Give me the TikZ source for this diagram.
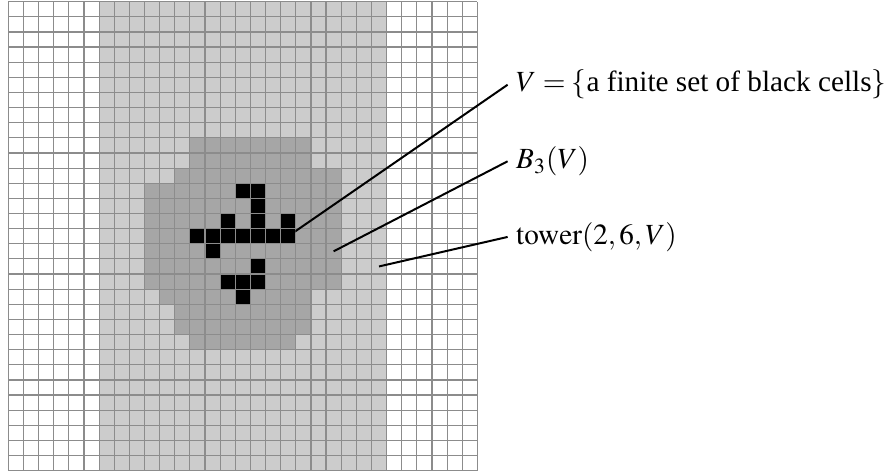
\documentclass[tikz,border=0pt]{standalone}
\usepackage{mathptmx}
\usepackage{fontspec}
\setmainfont{Liberation Serif}
\usepackage{tikz}
\usepackage{xcolor}
\definecolor{towerCol}{HTML}{CCCCCC}
\definecolor{ballCol}{HTML}{A6A6A6}
\definecolor{gridCol}{HTML}{8C8C8C}

\begin{document}
\begin{tikzpicture}[
    x=2mm, y=2mm,
    tower/.style={fill=towerCol},
    ball/.style={fill=ballCol},
    blackcell/.style={fill=black},
    gridline/.style={draw=gridCol, line width=0.45pt},
    leader/.style={draw=black, line width=0.75pt},
    tag/.style={anchor=west, inner sep=3pt, font=\fontsize{11pt}{13pt}\selectfont}
]
\useasboundingbox (-0.55,-0.22) rectangle (58.14,31.11);

% =====================================================================
% TOWER (columns 6--24, all rows)
% =====================================================================
\fill[tower] (6,0) rectangle (25,31);

% =====================================================================
% BALL B_3(V): row / first column / last column (rows from top)
% =====================================================================
\foreach \r/\a/\b in {9/12/19, 10/12/19, 11/11/21, 12/9/21, 13/9/21, 14/9/21,
                      15/9/21, 16/9/21, 17/9/21, 18/9/21, 19/10/19, 20/11/19,
                      21/11/19, 22/12/18}
    \fill[ball] (\a,30-\r) rectangle (\b+1,31-\r);

% =====================================================================
% V: THE BLACK CELLS (column / row from top)
% =====================================================================
\foreach \c/\r in {15/12, 16/12, 16/13, 14/14, 16/14, 18/14,
                   12/15, 13/15, 14/15, 15/15, 16/15, 17/15, 18/15,
                   13/16, 16/17, 14/18, 15/18, 16/18, 15/19}
    \fill[blackcell] (\c,30-\r) rectangle (\c+1,31-\r);

% grid on top
\draw[gridline, step=2mm] (0,0) grid (31,31);

% =====================================================================
% LABELS
% =====================================================================
\coordinate (vcell) at (18.5,15.5);
\coordinate (bcell) at (21.5,14.5);
\coordinate (tcell) at (24.5,13.5);

\node[tag] (labV) at (33,25.51) {$V=\{\mbox{a finite set of black cells}\}$};
\node[tag] (labB) at (33,20.45) {$B_3(V)$};
\node[tag] (labT) at (33,15.45) {$\mathrm{tower}(2,6,V)$};

% =====================================================================
% LEADERS
% =====================================================================
\begin{scope}
    \clip (18.98,-0.22) rectangle (58.14,31.11);
    \draw[leader] (vcell) -- (labV.west);
\end{scope}
\draw[leader] (bcell) -- (labB.west);
\draw[leader] (tcell) -- (labT.west);

\end{tikzpicture}
\end{document}
